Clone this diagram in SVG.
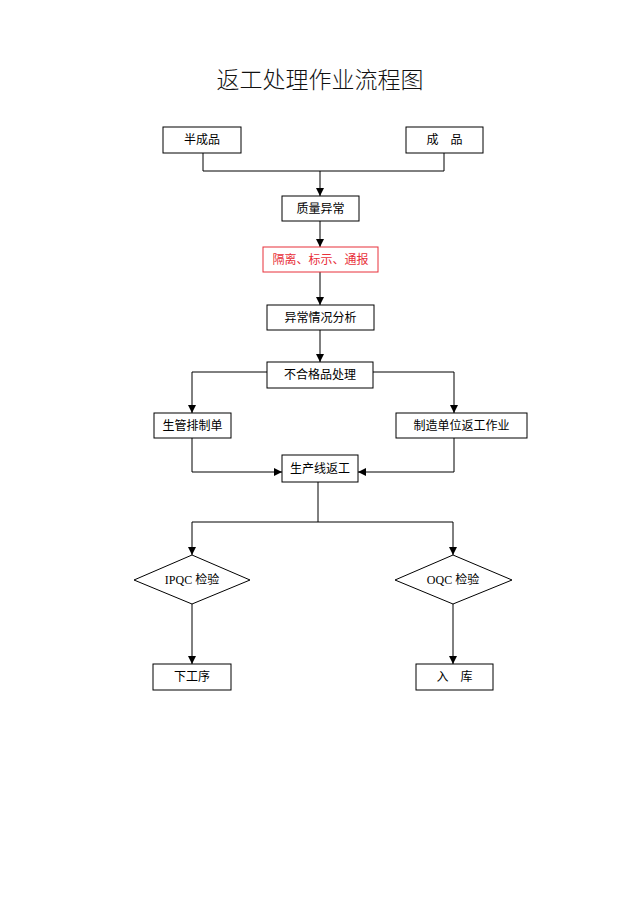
<svg xmlns="http://www.w3.org/2000/svg" width="640" height="905" viewBox="0 0 640 905">
<style>
.box{fill:#fff;stroke:#000;stroke-width:1}
.red{fill:#fff;stroke:#e8303a;stroke-width:1}
.t{font-family:"Liberation Serif","Noto Sans CJK SC",serif;font-size:12px;fill:#000;text-anchor:middle;dominant-baseline:central}
.tr{fill:#e8303a}
.ln{fill:none;stroke:#000;stroke-width:1}
</style>
<defs>
<marker id="ah" viewBox="0 0 10 10" refX="10" refY="5" markerWidth="8" markerHeight="8" markerUnits="userSpaceOnUse" orient="auto">
<path d="M0,0 L10,5 L0,10 Z" fill="#000"/>
</marker>
</defs>
<rect width="640" height="905" fill="#fff"/>
<text x="320" y="78" font-family="Noto Sans CJK SC,sans-serif" font-size="23" font-weight="300" text-anchor="middle" dominant-baseline="central" fill="#111">返工处理作业流程图</text>

<g id="connectors">
<path class="ln" d="M203,153 V171 H444 V153"/>
<path class="ln" d="M320,171 V196" marker-end="url(#ah)"/>
<path class="ln" d="M320,221 V247" marker-end="url(#ah)"/>
<path class="ln" d="M320,272 V305" marker-end="url(#ah)"/>
<path class="ln" d="M320,330 V362" marker-end="url(#ah)"/>
<path class="ln" d="M267,372 H192 V413" marker-end="url(#ah)"/>
<path class="ln" d="M373,372 H454 V413" marker-end="url(#ah)"/>
<path class="ln" d="M192,438 V472 H282" marker-end="url(#ah)"/>
<path class="ln" d="M454,438 V472 H358" marker-end="url(#ah)"/>
<path class="ln" d="M318,482 V522"/>
<path class="ln" d="M192,522 H453"/>
<path class="ln" d="M192,522 V555" marker-end="url(#ah)"/>
<path class="ln" d="M453,522 V555" marker-end="url(#ah)"/>
<path class="ln" d="M192,604 V664" marker-end="url(#ah)"/>
<path class="ln" d="M453,604 V664" marker-end="url(#ah)"/>
</g>

<g id="n1"><rect class="box" x="163" y="127" width="78" height="26"/><text class="t" x="202" y="140">半成品</text></g>
<g id="n2"><rect class="box" x="406" y="127" width="77" height="26"/><text class="t" x="444.5" y="140" xml:space="preserve">成    品</text></g>
<g id="n3"><rect class="box" x="282" y="196" width="77" height="25"/><text class="t" x="320.5" y="208.5">质量异常</text></g>
<g id="n4"><rect class="red" x="263" y="247" width="115" height="25"/><text class="t tr" x="320.5" y="259.5">隔离、标示、通报</text></g>
<g id="n5"><rect class="box" x="267" y="305" width="107" height="25"/><text class="t" x="320.5" y="317.5">异常情况分析</text></g>
<g id="n6"><rect class="box" x="267" y="362" width="106" height="26"/><text class="t" x="320" y="375">不合格品处理</text></g>
<g id="n7"><rect class="box" x="154" y="413" width="77" height="25"/><text class="t" x="192.5" y="425.5">生管排制单</text></g>
<g id="n8"><rect class="box" x="396" y="413" width="131" height="25"/><text class="t" x="461.5" y="425.5">制造单位返工作业</text></g>
<g id="n9"><rect class="box" x="282" y="455" width="76" height="27"/><text class="t" x="320" y="468.5">生产线返工</text></g>
<g id="n10"><polygon class="box" points="192,555 250,580 192,604 134,580"/><text class="t" x="192" y="580">IPQC 检验</text></g>
<g id="n11"><polygon class="box" points="453,555 512,580 453,604 395,580"/><text class="t" x="453" y="580">OQC 检验</text></g>
<g id="n12"><rect class="box" x="153" y="664" width="78" height="26"/><text class="t" x="192" y="677">下工序</text></g>
<g id="n13"><rect class="box" x="416" y="664" width="77" height="26"/><text class="t" x="454.5" y="677" xml:space="preserve">入    库</text></g>
</svg>
